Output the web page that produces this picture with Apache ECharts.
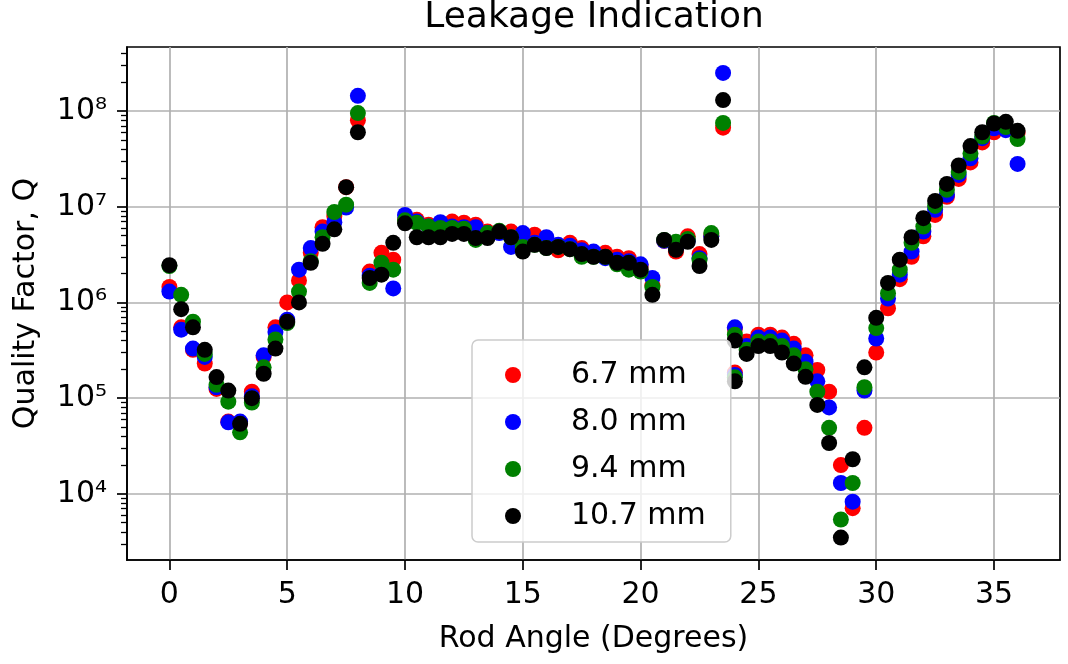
<!DOCTYPE html>
<html>
<head>
<meta charset="utf-8">
<title>Leakage Indication</title>
<script src="https://cdn.jsdelivr.net/npm/echarts@6/dist/echarts.min.js"></script>
<style>
  html, body { margin: 0; padding: 0; background: #fff; }
  #chart { width: 1068px; height: 664px; }
</style>
</head>
<body>
<div id="chart"></div>
<script>
// rod angle in degrees (24 appears twice: two readings there)
const angles = [
  0, 0.5, 1, 1.5, 2, 2.5, 3, 3.5, 4, 4.5, 5, 5.5, 6, 6.5, 7, 7.5, 8, 8.5, 9, 9.5,
  10, 10.5, 11, 11.5, 12, 12.5, 13, 13.5, 14, 14.5, 15, 15.5, 16, 16.5, 17, 17.5, 18, 18.5, 19, 19.5,
  20, 20.5, 21, 21.5, 22, 22.5, 23, 23.5, 24, 24, 24.5, 25, 25.5, 26, 26.5, 27, 27.5, 28, 28.5, 29, 29.5,
  30, 30.5, 31, 31.5, 32, 32.5, 33, 33.5, 34, 34.5, 35, 35.5, 36
]

// quality factor Q for each rod diameter
const q67 = [
  1.45e6, 5.5e5, 3.2e5, 2.3e5, 1.25e5, 5.7e4, 5.5e4, 1.17e5, 2.7e5, 5.5e5, 1.0e6, 1.7e6, 3.3e6, 6.1e6, 8.0e6, 1.6e7, 8.0e7, 2.1e6, 3.3e6, 2.8e6,
  7.3e6, 7.3e6, 6.5e6, 6.5e6, 7.0e6, 6.8e6, 6.5e6, 5.5e6, 5.4e6, 5.5e6, 4.9e6, 5.1e6, 4.4e6, 3.5e6, 4.2e6, 3.7e6, 3.3e6, 3.3e6, 3.0e6, 2.9e6,
  2.4e6, 1.5e6, 4.4e6, 3.4e6, 4.9e6, 3.2e6, 5.0e6, 6.7e7, 5.3e5, 1.85e5, 3.9e5, 4.6e5, 4.6e5, 4.3e5, 3.7e5, 2.8e5, 1.97e5, 1.17e5, 2.0e4, 7.1e3, 4.9e4,
  3.0e5, 8.7e5, 1.75e6, 3.0e6, 4.9e6, 8.2e6, 1.27e7, 1.95e7, 2.9e7, 4.7e7, 6.0e7, 6.5e7, 5.9e7
]
const q80 = [
  1.3e6, 5.2e5, 3.3e5, 2.7e5, 1.3e5, 5.6e4, 5.7e4, 1.05e5, 2.8e5, 4.9e5, 6.6e5, 2.2e6, 3.7e6, 5.5e6, 6.9e6, 9.8e6, 1.44e8, 1.9e6, 2.0e6, 1.4e6,
  8.2e6, 7.0e6, 6.2e6, 6.9e6, 6.2e6, 6.1e6, 6.1e6, 5.3e6, 5.3e6, 3.8e6, 5.3e6, 4.2e6, 4.8e6, 4.0e6, 3.9e6, 3.5e6, 3.4e6, 2.9e6, 2.8e6, 2.7e6,
  2.5e6, 1.8e6, 4.4e6, 3.7e6, 4.4e6, 2.9e6, 4.9e6, 2.5e8, 5.5e5, 1.75e5, 3.5e5, 4.3e5, 4.3e5, 4.0e5, 3.3e5, 2.4e5, 1.5e5, 8.0e4, 1.3e4, 8.3e3, 1.2e5,
  4.2e5, 1.1e6, 1.95e6, 3.4e6, 5.5e6, 9.3e6, 1.33e7, 2.15e7, 3.2e7, 5.2e7, 6.6e7, 6.3e7, 2.8e7
]
const q94 = [
  2.4e6, 1.2e6, 6.3e5, 2.9e5, 1.38e5, 9.2e4, 4.4e4, 9.0e4, 2.1e5, 4.1e5, 6.1e5, 1.3e6, 2.7e6, 4.8e6, 8.8e6, 1.05e7, 9.5e7, 1.6e6, 2.6e6, 2.2e6,
  7.2e6, 6.8e6, 6.2e6, 6.0e6, 6.0e6, 5.9e6, 4.5e6, 5.3e6, 5.6e6, 4.8e6, 3.8e6, 4.0e6, 3.7e6, 3.8e6, 3.6e6, 3.0e6, 3.0e6, 3.0e6, 2.5e6, 2.2e6,
  2.1e6, 1.45e6, 4.5e6, 4.3e6, 4.6e6, 2.8e6, 5.3e6, 7.5e7, 4.6e5, 1.65e5, 3.2e5, 3.9e5, 3.9e5, 3.5e5, 2.8e5, 2.0e5, 1.17e5, 4.9e4, 5.4e3, 1.3e4, 1.3e5,
  5.4e5, 1.25e6, 2.2e6, 4.2e6, 6.2e6, 1.02e7, 1.5e7, 2.3e7, 3.6e7, 5.4e7, 7.5e7, 6.8e7, 5.1e7
]
const q107 = [
  2.45e6, 8.5e5, 5.5e5, 3.2e5, 1.66e5, 1.2e5, 5.4e4, 1.0e5, 1.8e5, 3.3e5, 6.3e5, 1.0e6, 2.6e6, 4.1e6, 5.8e6, 1.6e7, 6.0e7, 1.8e6, 1.95e6, 4.2e6,
  6.7e6, 4.8e6, 4.8e6, 4.8e6, 5.2e6, 5.2e6, 4.7e6, 4.7e6, 5.5e6, 4.8e6, 3.4e6, 4.0e6, 3.7e6, 3.8e6, 3.6e6, 3.2e6, 3.0e6, 3.0e6, 2.6e6, 2.6e6,
  2.2e6, 1.2e6, 4.5e6, 3.55e6, 4.3e6, 2.4e6, 4.5e6, 1.3e8, 4.0e5, 1.5e5, 2.9e5, 3.5e5, 3.5e5, 3.0e5, 2.3e5, 1.67e5, 8.5e4, 3.4e4, 3.5e3, 2.3e4, 2.1e5,
  6.9e5, 1.6e6, 2.8e6, 4.8e6, 7.6e6, 1.15e7, 1.73e7, 2.7e7, 4.3e7, 6.0e7, 7.4e7, 7.7e7, 6.2e7
]

const seriesNames = ['6.7 mm', '8.0 mm', '9.4 mm', '10.7 mm']
const seriesColors = ['#ff0000', '#0000ff', '#008000', '#000000']
const xTicks = [0, 5, 10, 15, 20, 25, 30, 35]
const yDecades = [4, 5, 6, 7, 8]

const font = 'DejaVu Sans'
const sup = { '3': '³', '4': '⁴', '5': '⁵', '6': '⁶', '7': '⁷', '8': '⁸', '9': '⁹' }

// log axis drawn as a value axis over log10(Q)
const yMin = Math.log10(2040)
const yMax = Math.log10(4.66e8)
let minorTicks = []
for (let n = 3; n <= 8; n++) {
  for (let k = 2; k <= 9; k++) {
    let v = Math.log10(k * Math.pow(10, n))
    if (v > yMin && v < yMax) minorTicks.push(v)
  }
}

function toPoints(vals) {
  return angles.map((a, i) => [a, Math.log10(vals[i])])
}

const allValues = [q67, q80, q94, q107]

let chart = echarts.init(document.getElementById('chart'))
let options = {
  animation: false,
  textStyle: { fontFamily: font },
  title: {
    text: 'Leakage Indication',
    left: 594,
    top: 0,
    textAlign: 'center',
    padding: 0,
    textStyle: { fontFamily: font, fontSize: 36, fontWeight: 'normal', color: '#000' }
  },
  grid: {
    left: 127, right: 8, top: 47, bottom: 104,
    show: true,
    borderColor: '#000',
    borderWidth: 1.7
  },
  legend: {
    orient: 'vertical',
    left: 472,
    top: 340,
    icon: 'circle',
    itemWidth: 16,
    itemHeight: 16,
    itemGap: 15,
    padding: [19, 25, 10, 33],
    backgroundColor: 'rgba(255,255,255,0.8)',
    borderColor: '#cccccc',
    borderWidth: 1.5,
    borderRadius: 6,
    selectedMode: false,
    textStyle: { fontFamily: font, fontSize: 30, lineHeight: 32, color: '#000', padding: [0, 0, 0, 45] },
    data: seriesNames
  },
  xAxis: {
    type: 'value',
    min: -1.8,
    max: 37.8,
    name: 'Rod Angle (Degrees)',
    nameLocation: 'middle',
    nameGap: 64,
    nameTextStyle: { fontFamily: font, fontSize: 30, color: '#000' },
    axisLine: { show: true, onZero: false, lineStyle: { color: '#000', width: 1.7 } },
    axisTick: { show: true, customValues: xTicks, length: 10, lineStyle: { color: '#000', width: 1.7 } },
    axisLabel: { customValues: xTicks, margin: 20, fontFamily: font, fontSize: 30, color: '#000' },
    splitLine: { show: true, lineStyle: { color: '#b0b0b0', width: 1.7 } }
  },
  yAxis: [
    {
      type: 'value',
      min: yMin,
      max: yMax,
      name: 'Quality Factor, Q',
      nameLocation: 'middle',
      nameGap: 86,
      nameTextStyle: { fontFamily: font, fontSize: 30, color: '#000' },
      axisLine: { show: true, onZero: false, lineStyle: { color: '#000', width: 1.7 } },
      axisTick: { show: true, customValues: yDecades, length: 10, lineStyle: { color: '#000', width: 1.7 } },
      axisLabel: {
        customValues: yDecades,
        margin: 20,
        fontFamily: font,
        fontSize: 30,
        color: '#000',
        formatter: v => '10' + sup[String(Math.round(v))]
      },
      splitLine: { show: true, lineStyle: { color: '#b0b0b0', width: 1.7 } }
    },
    {
      // minor ticks only
      type: 'value',
      min: yMin,
      max: yMax,
      position: 'left',
      axisLine: { show: false, onZero: false },
      axisTick: { show: true, customValues: minorTicks, length: 6, lineStyle: { color: '#000', width: 1.3 } },
      axisLabel: { show: false },
      splitLine: { show: false }
    }
  ],
  series: allValues.map((vals, i) => ({
    name: seriesNames[i],
    type: 'scatter',
    yAxisIndex: 0,
    symbol: 'circle',
    symbolSize: 16,
    itemStyle: { color: seriesColors[i], opacity: 1 },
    data: toPoints(vals)
  }))
}
chart.setOption(options)
</script>
</body>
</html>
